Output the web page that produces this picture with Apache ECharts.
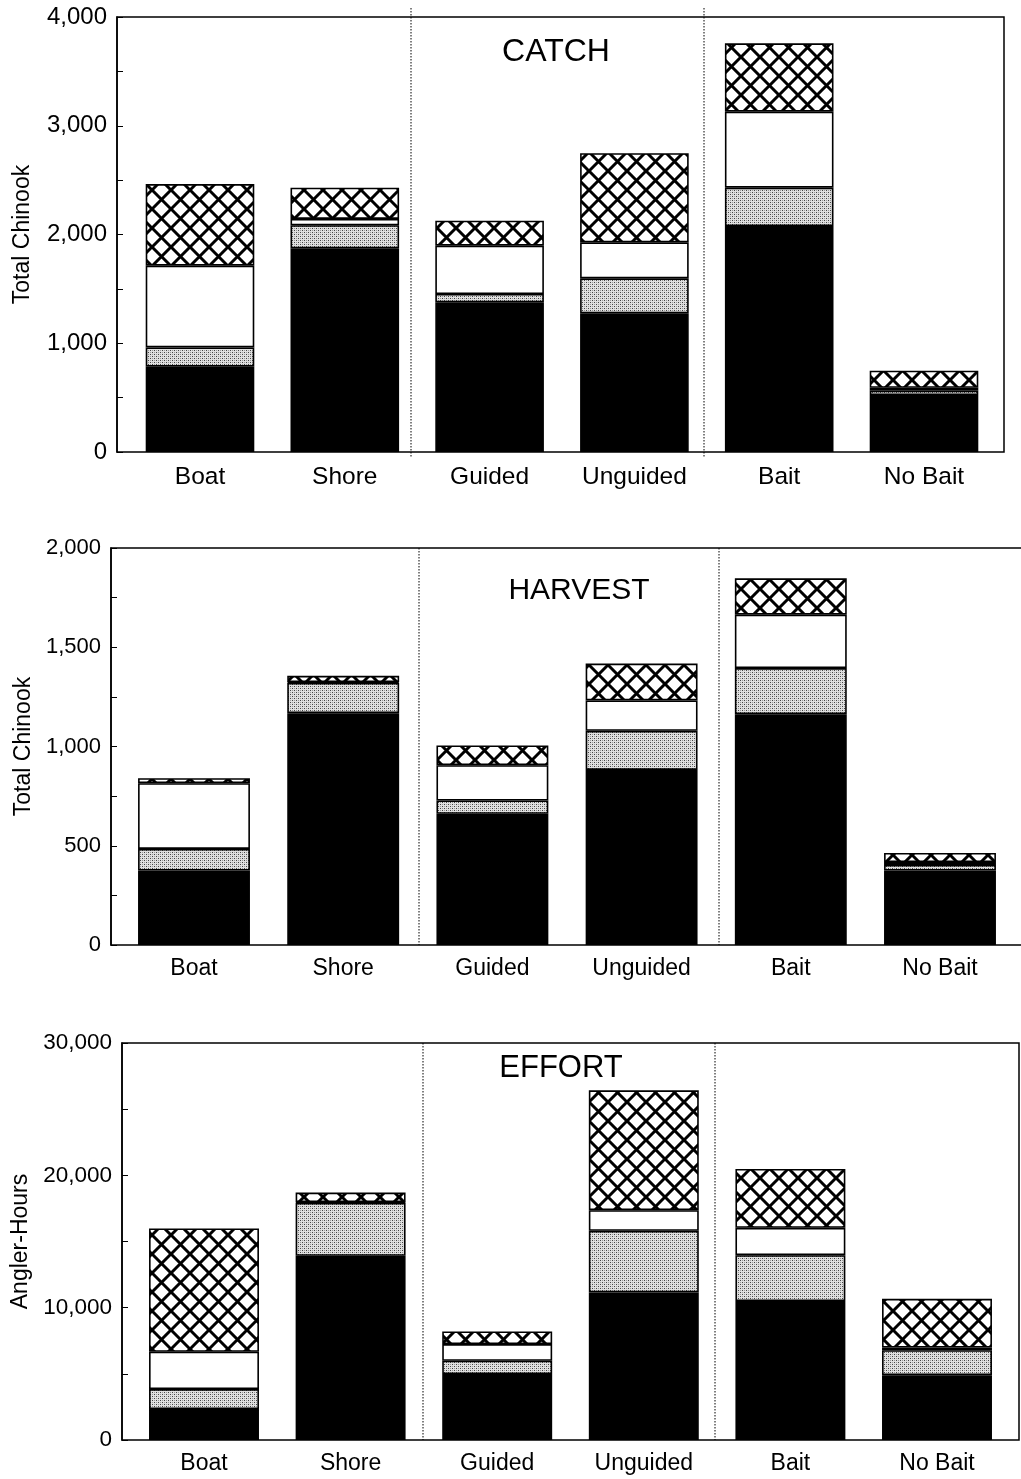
<!DOCTYPE html>
<html>
<head>
<meta charset="utf-8">
<style>
  html, body { margin: 0; padding: 0; background: #fff; }
  #chart { width: 1021px; height: 1479px; }
</style>
<script src="https://cdn.jsdelivr.net/npm/echarts@6/dist/echarts.min.js"></script>
</head>
<body>
<div id="chart"></div>
<script>
// Chinook catch, harvest and effort by fishery component, stacked by period
const categories = ['Boat', 'Shore', 'Guided', 'Unguided', 'Bait', 'No Bait'];

// CATCH (total Chinook)
const catchBlack   = [785, 1873, 1376, 1275, 2078, 524];
const catchStipple = [177,  212,   77,  322,  353,  40];
const catchWhite   = [751,   58,  444,  331,  698,  27];
const catchHatch   = [751,  288,  230,  819,  629, 157];

// HARVEST (total Chinook)
const harvestBlack   = [375, 1168, 661, 882, 1163, 375];
const harvestStipple = [109,  153,  67, 197,  232,  28];
const harvestWhite   = [331,    4, 178, 153,  269,  15];
const harvestHatch   = [ 25,   31,  99, 186,  183,  46];

// EFFORT (angler-hours)
const effortBlack   = [2340, 13920, 4980, 11150, 10500, 4900];
const effortStipple = [1510,  4000, 1010,  4655,  3470, 1890];
const effortWhite   = [2820,    50, 1260,  1560,  2060,  200];
const effortHatch   = [9320,   730,  955,  9060,  4455, 3680];

const panelTitles = ['CATCH', 'HARVEST', 'EFFORT'];
const axisNames = ['Total Chinook', 'Total Chinook', 'Angler-Hours'];
const axisMax = [4000, 2000, 30000];
const tickStep = [500, 250, 5000];
const labelStep = [1000, 500, 10000];

const FONT = '"Liberation Sans", Arial, Helvetica, sans-serif';

// fill patterns
function makeStipple() {
  const c = document.createElement('canvas');
  c.width = 4; c.height = 4;
  const g = c.getContext('2d');
  g.fillStyle = '#e0e0e0';
  g.fillRect(0, 0, 4, 4);
  g.fillStyle = '#444';
  g.fillRect(0, 0, 1, 1);
  g.fillRect(2, 2, 1, 1);
  g.fillStyle = '#999';
  g.fillRect(2, 0, 1, 1);
  g.fillRect(0, 2, 1, 1);
  return c;
}
function makeHatch(size, lw) {
  const c = document.createElement('canvas');
  c.width = size; c.height = size;
  const g = c.getContext('2d');
  g.fillStyle = '#fff';
  g.fillRect(0, 0, size, size);
  g.strokeStyle = '#000';
  g.lineWidth = lw;
  g.beginPath();
  g.moveTo(-2, -2); g.lineTo(size + 2, size + 2);
  g.moveTo(size + 2, -2); g.lineTo(-2, size + 2);
  g.stroke();
  return c;
}
const stipplePattern = { image: makeStipple(), repeat: 'repeat' };
const hatchPattern = { image: makeHatch(19, 3), repeat: 'repeat' };

const panelData = [
  [catchBlack, catchStipple, catchWhite, catchHatch],
  [harvestBlack, harvestStipple, harvestWhite, harvestHatch],
  [effortBlack, effortStipple, effortWhite, effortHatch]
];
const segmentFill = ['#000', stipplePattern, '#fff', hatchPattern];

// layout of each panel: frame box and the band holding the six bars
const H = 1479, W = 1021;
const layout = [
  { frameL: 117, frameR: 1004, top: 17,   bottom: 452,  barL: 127.6, barR: 996.4,  font: 24.5, tickFont: 24, margin: 13, nameGap: 83, sep: [411, 704], sepTop: 8, sepBot: 458, title: [556, 52], titleSize: 32 },
  { frameL: 111, frameR: 1031, top: 548,  bottom: 945,  barL: 119.4, barR: 1014.6, font: 23, tickFont: 22, margin: 12, nameGap: 76, sep: [419, 719], sepTop: 548, sepBot: 945, title: [579, 591], titleSize: 30 },
  { frameL: 122, frameR: 1019, top: 1043, bottom: 1440, barL: 130.7, barR: 1010.3, font: 23, tickFont: 22.5, margin: 12, nameGap: 89, sep: [423, 715], sepTop: 1043, sepBot: 1440, title: [561, 1068], titleSize: 31 }
];

const grid = [], xAxis = [], yAxis = [], series = [], graphic = [];

layout.forEach((L, p) => {
  // frame grid: box outline and value axis
  grid.push({
    left: L.frameL, right: W - L.frameR, top: L.top, bottom: H - L.bottom,
    show: true, borderColor: '#000', borderWidth: 1.5, backgroundColor: 'transparent',
    containLabel: false, outerBoundsMode: 'none'
  });
  // bar grid
  grid.push({
    left: L.barL, right: W - L.barR, top: L.top, bottom: H - L.bottom,
    show: false, containLabel: false, outerBoundsMode: 'none'
  });

  xAxis.push({ type: 'value', gridIndex: 2 * p, min: 0, max: 1, show: false });
  xAxis.push({
    type: 'category', gridIndex: 2 * p + 1, data: categories,
    axisLine: { show: false }, axisTick: { show: false }, splitLine: { show: false },
    axisLabel: { color: '#000', fontFamily: FONT, fontSize: L.font, margin: L.margin, interval: 0 }
  });

  yAxis.push({
    type: 'value', gridIndex: 2 * p, min: 0, max: axisMax[p], interval: tickStep[p],
    name: axisNames[p], nameLocation: 'middle', nameGap: L.nameGap,
    nameTextStyle: { color: '#000', fontFamily: FONT, fontSize: 23 },
    axisLine: { show: true, lineStyle: { color: '#000', width: 1.5 } },
    axisTick: { show: true, inside: true, length: 6, lineStyle: { color: '#000', width: 1 } },
    splitLine: { show: false },
    axisLabel: {
      color: '#000', fontFamily: FONT, fontSize: L.tickFont, margin: 10,
      showMinLabel: true, showMaxLabel: true,
      formatter: v => (v % labelStep[p] === 0 ? v.toLocaleString('en-US') : '')
    }
  });
  yAxis.push({ type: 'value', gridIndex: 2 * p + 1, min: 0, max: axisMax[p], show: false });

  panelData[p].forEach((vals, s) => {
    series.push({
      type: 'bar', name: panelTitles[p] + s, stack: 'panel' + p,
      xAxisIndex: 2 * p + 1, yAxisIndex: 2 * p + 1,
      barWidth: '75%', data: vals,
      itemStyle: { color: segmentFill[s], borderColor: '#000', borderWidth: 1.6 },
      emphasis: { disabled: true },
      silent: true
    });
  });

  // dotted dividers between the three comparisons
  L.sep.forEach(x => {
    graphic.push({
      type: 'line', silent: true, z: 10,
      shape: { x1: x, y1: L.sepTop, x2: x, y2: L.sepBot },
      style: { stroke: '#000', lineWidth: 1, lineDash: [1.5, 1.5] }
    });
  });

  graphic.push({
    type: 'text', silent: true, z: 10,
    x: L.title[0], y: L.title[1],
    style: {
      text: panelTitles[p], fill: '#000', font: L.titleSize + 'px ' + FONT,
      align: 'center', verticalAlign: 'middle'
    }
  });
});

const chart = echarts.init(document.getElementById('chart'), null, { renderer: 'canvas' });
chart.setOption({
  animation: false,
  backgroundColor: '#fff',
  grid, xAxis, yAxis, series, graphic
});
</script>
</body>
</html>
